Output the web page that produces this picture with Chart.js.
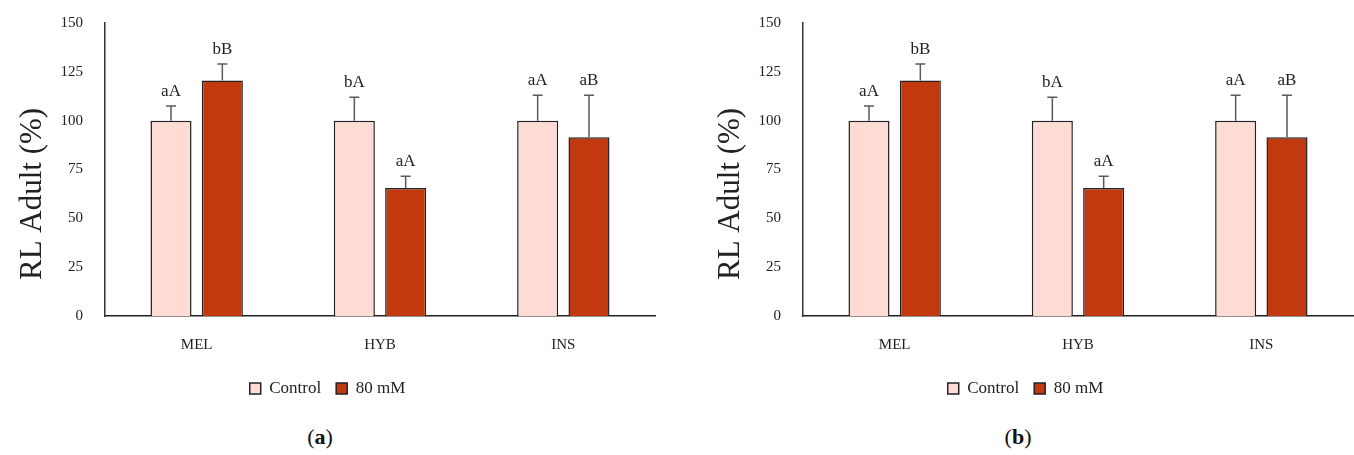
<!DOCTYPE html>
<html>
<head>
<meta charset="utf-8">
<script src="https://cdn.jsdelivr.net/npm/chart.js@4.4.1/dist/chart.umd.min.js"></script>
<style>
  body { margin: 0; background: #fff; width: 1354px; height: 455px; position: relative; overflow: hidden; }
  .panel { position: absolute; top: 0; width: 680px; height: 455px; }
  .panel canvas { position: absolute; left: 0; top: -8px; }
  .caption { position: absolute; top: 424px; left: -232px; width: 1104px; text-align: center;
             font-family: "Liberation Serif", serif; font-size: 22px; color: #111; }
</style>
</head>
<body>
<div class="panel" style="left:0"><canvas id="chartA" width="680" height="415"></canvas><div class="caption">(<b>a</b>)</div></div>
<div class="panel" style="left:698px"><canvas id="chartB" width="680" height="415"></canvas><div class="caption">(<b>b</b>)</div></div>
<script>
// chart values (both panels show the same data)
const categories = ['MEL', 'HYB', 'INS'];
const controlValues = [100, 100, 100];
const controlErrors = [7.5, 12, 13];
const saltValues = [120.5, 65.5, 91.5];
const saltErrors = [8.5, 6, 21.5];
const controlLetters = ['aA', 'bA', 'aA'];
const saltLetters = ['bB', 'aA', 'aB'];
const yTicks = [0, 25, 50, 75, 100, 125, 150];
const yTitle = 'RL Adult (%)';

const serif = '"Liberation Serif", "Times New Roman", serif';

// draws the upper error bars and the letters above them
const errorBarPlugin = {
    id: 'errorBars',
    afterDatasetsDraw(chart) {
        const ctx = chart.ctx;
        const yScale = chart.scales.y;
        chart.data.datasets.forEach((ds, i) => {
            const meta = chart.getDatasetMeta(i);
            meta.data.forEach((bar, j) => {
                const top = yScale.getPixelForValue(ds.data[j] + ds.errors[j]);
                ctx.save();
                ctx.strokeStyle = '#5a5a5a';
                ctx.lineWidth = 1.5;
                ctx.beginPath();
                ctx.moveTo(bar.x, bar.y);
                ctx.lineTo(bar.x, top);
                ctx.moveTo(bar.x - 5, top);
                ctx.lineTo(bar.x + 5, top);
                ctx.stroke();
                ctx.fillStyle = '#222';
                ctx.font = '17px ' + serif;
                ctx.textAlign = 'center';
                ctx.textBaseline = 'alphabetic';
                ctx.fillText(ds.letters[j], bar.x, top - 10);
                ctx.restore();
            });
        });
    }
};

// y title sits a bit below the middle of the axis in the original
const yTitlePlugin = {
    id: 'yTitle',
    afterDraw(chart) {
        const ctx = chart.ctx;
        const yScale = chart.scales.y;
        ctx.save();
        ctx.translate(33, yScale.getPixelForValue(62.5));
        ctx.rotate(-Math.PI / 2);
        ctx.fillStyle = '#222';
        ctx.font = '31px ' + serif;
        ctx.textAlign = 'center';
        ctx.textBaseline = 'middle';
        ctx.fillText(yTitle, 0, 0);
        ctx.restore();
    }
};

function makeChart(id) {
    const ctx = document.getElementById(id).getContext('2d');
    return new Chart(ctx, {
        type: 'bar',
        data: {
            labels: categories,
            datasets: [{
                label: 'Control',
                data: controlValues,
                errors: controlErrors,
                letters: controlLetters,
                backgroundColor: '#fedcd5',
                borderColor: '#222',
                borderWidth: 1.5,
                borderSkipped: 'bottom'
            }, {
                label: '80 mM',
                data: saltValues,
                errors: saltErrors,
                letters: saltLetters,
                backgroundColor: '#c3390f',
                borderColor: '#222',
                borderWidth: 1.5,
                borderSkipped: 'bottom'
            }]
        },
        options: {
            responsive: false,
            animation: false,
            categoryPercentage: 0.56,
            barPercentage: 0.8,
            layout: { padding: { top: 14, right: 25, left: 0, bottom: 0 } },
            plugins: {
                legend: {
                    position: 'bottom',
                    labels: {
                        boxWidth: 11,
                        boxHeight: 11,
                        padding: 15,
                        color: '#222',
                        font: { family: serif, size: 17 }
                    }
                },
                tooltip: { enabled: false }
            },
            scales: {
                x: {
                    grid: { display: false, drawTicks: false },
                    border: { display: true, color: '#222', width: 1.5 },
                    ticks: { color: '#222', padding: 20, font: { family: serif, size: 15 } },
                    afterFit(scale) { scale.height = 49; }
                },
                y: {
                    min: 0,
                    max: 150,
                    afterBuildTicks(scale) { scale.ticks = yTicks.map(v => ({ value: v })); },
                    grid: { display: false, drawTicks: false },
                    border: { display: true, color: '#333', width: 1.5 },
                    ticks: { color: '#222', padding: 22, font: { family: serif, size: 15 } },
                    afterFit(scale) { scale.width = 105; }
                }
            }
        },
        plugins: [errorBarPlugin, yTitlePlugin]
    });
}

makeChart('chartA');
makeChart('chartB');
</script>
</body>
</html>
